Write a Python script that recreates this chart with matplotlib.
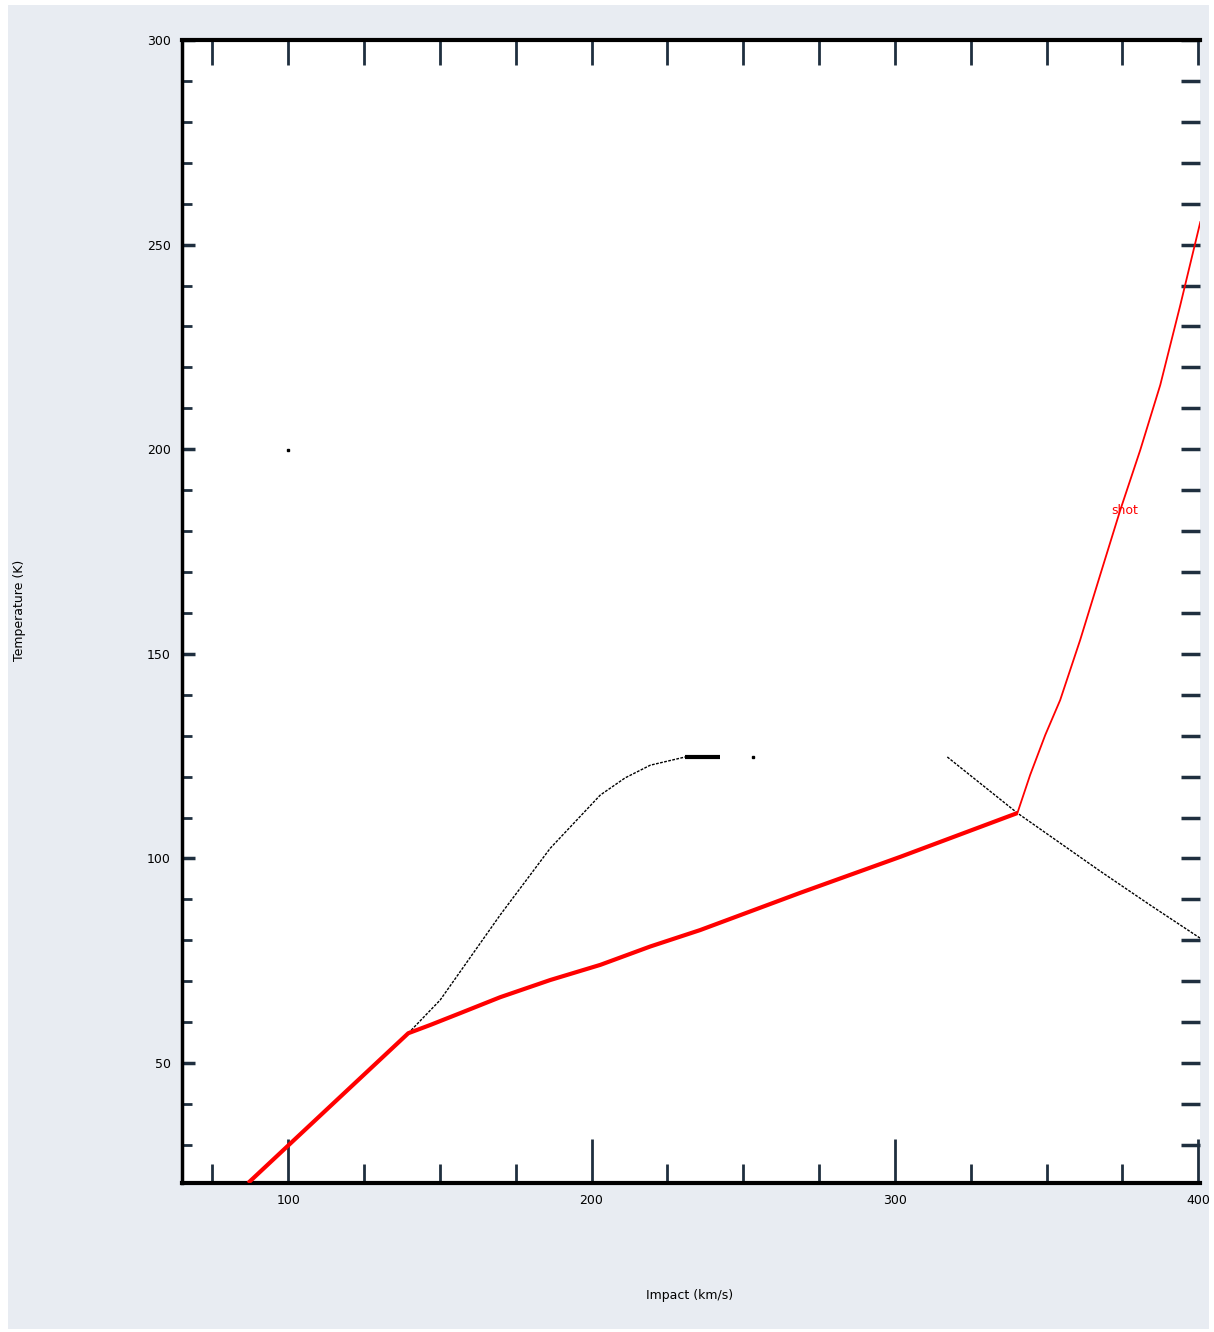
import matplotlib
matplotlib.use("Agg")
import matplotlib.pyplot as plt
from matplotlib.patches import Rectangle
from matplotlib.ticker import MultipleLocator

# ---- data ----
red_x = [86.8, 139.6, 146.8, 156.7, 169.9, 186.4, 202.9, 219.4, 235.8, 268.8,
         301.8, 340.4]
red_y = [20.7, 57.3, 59.3, 62.2, 66.1, 70.3, 74.0, 78.5, 82.5, 91.6,
         100.4, 111.1]
red2_x = [340.4, 344.6, 349.6, 354.5, 361.1, 367.7, 374.3, 380.9, 387.5,
          394.1, 400.7]
red2_y = [111.1, 120.4, 130.2, 138.7, 153.4, 169.3, 185.1, 199.8, 215.7,
          235.2, 255.5]

blk1_x = [139.6, 150.1, 169.9, 186.4, 202.9, 211.1, 219.4, 230.9]
blk1_y = [57.3, 65.4, 86.2, 102.5, 115.5, 119.7, 122.8, 124.8]
flat_x = [230.9, 242.5]
flat_y = [124.8, 124.8]
dot_x = [253.3, 100.0]
dot_y = [124.8, 199.8]
blk2_x = [317.3, 340.4, 367.7, 384.2, 400.7]
blk2_y = [124.8, 111.1, 96.9, 88.6, 80.5]

x_ticks = [100, 200, 300, 400]
y_ticks = [50, 100, 150, 200, 250, 300]
x_label = "Impact (km/s)"
y_label = "Temperature (K)"
curve_label = "shot"

W, H = 1214, 1332
fig = plt.figure(figsize=(W / 100, H / 100), dpi=100, facecolor="white")
bg = Rectangle((8 / W, 3 / H), (W - 13) / W, (H - 8) / H,
               transform=fig.transFigure, facecolor="#E8ECF2",
               edgecolor="none", zorder=-10)
fig.add_artist(bg)

ax = fig.add_axes([182 / W, 1 - 1183 / H, (1200 - 182) / W, (1183 - 40) / H])
ax.set_zorder(5)
ax.set_facecolor("white")
ax.set_xlim(65, 400.6)
ax.set_ylim(20.7, 300)

ax.plot(red_x, red_y, color="#ff0000", lw=3, solid_capstyle="butt",
        solid_joinstyle="round", zorder=3)
ax.plot(red2_x, red2_y, color="#ff0000", lw=1.3, zorder=3)
ax.plot(blk1_x, blk1_y, color="black", lw=1.0, ls=(0, (2, 1)), zorder=2)
ax.plot(blk2_x, blk2_y, color="black", lw=1.0, ls=(0, (2, 1)), zorder=2)
ax.plot(flat_x, flat_y, color="black", lw=3, solid_capstyle="butt", zorder=2)
ax.plot(dot_x, dot_y, ls="none", marker="s", ms=1.5, color="black", zorder=2)
ax.text(371.5, 185, curve_label, color="#ff0000", fontsize=9,
        ha="left", va="center")

for s in ["top", "bottom"]:
    ax.spines[s].set_linewidth(3)
ax.spines["left"].set_linewidth(2.5)
ax.spines["right"].set_visible(False)

tc = "#1f2f3f"
ax.set_xticks(x_ticks)
ax.set_xticklabels([str(v) for v in x_ticks])
ax.xaxis.set_minor_locator(MultipleLocator(25))
ax.set_yticks(y_ticks)
ax.set_yticklabels([str(v) for v in y_ticks])
ax.yaxis.set_minor_locator(MultipleLocator(10))
ax.tick_params(axis="x", which="major", direction="in", length=32, width=2,
               color=tc, labelsize=9, pad=8)
ax.tick_params(axis="x", which="minor", direction="in", length=14, width=2,
               color=tc)
ax.tick_params(axis="y", which="major", direction="in", length=9, width=2.5,
               color=tc, labelsize=9, pad=8)
ax.tick_params(axis="y", which="minor", direction="in", length=7, width=2,
               color=tc)

# top and right tick marks
secx = ax.secondary_xaxis("top")
secx.set_xticks(x_ticks)
secx.xaxis.set_minor_locator(MultipleLocator(25))
secx.tick_params(which="both", direction="in", length=18, width=2, color=tc,
                 labeltop=False)
secx.spines["top"].set_visible(False)
secy = ax.secondary_yaxis("right")
secy.set_yticks(y_ticks)
secy.yaxis.set_minor_locator(MultipleLocator(10))
secy.tick_params(which="both", direction="in", length=14, width=2.5, color=tc,
                 labelright=False)
secy.spines["right"].set_visible(False)

fig.text(690 / W, 1 - 1295 / H, x_label, ha="center", va="center", fontsize=9)
fig.text(20 / W, 1 - 610 / H, y_label, ha="center", va="center", fontsize=9,
         rotation=90)

fig.savefig("out.png", dpi=100, facecolor=fig.get_facecolor())
